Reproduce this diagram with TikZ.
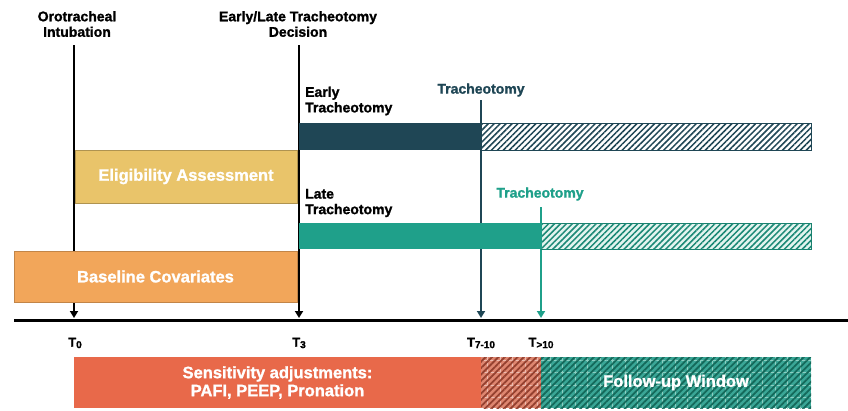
\documentclass[tikz,border=0pt]{standalone}
\usepackage{fontspec}
\setmainfont{Liberation Sans}[BoldFeatures={FakeBold=1.3}]
\usetikzlibrary{arrows.meta,patterns.meta}
\definecolor{navy}{HTML}{1F4655}
\definecolor{tealc}{HTML}{1FA08A}
\definecolor{yell}{HTML}{E9C46A}
\definecolor{oran}{HTML}{F2A65A}
\definecolor{redc}{HTML}{E8694A}
\definecolor{redh}{HTML}{DE8670}
\definecolor{redd}{HTML}{94402F}
\definecolor{follow}{HTML}{3AA696}
\definecolor{followd}{HTML}{14695A}
\definecolor{gridl}{HTML}{8CCFC2}
\definecolor{lteal}{HTML}{E3F4EF}
\newcommand{\Tsub}[1]{T\raisebox{-0.2ex}{\fontsize{10}{10}\selectfont #1}}
\begin{document}
\begin{tikzpicture}[x=1pt,y=-1pt,
  lbl/.style={font=\fontsize{14}{15.5}\selectfont\bfseries, align=center, inner sep=0pt},
  lbll/.style={font=\fontsize{14}{15.5}\selectfont\bfseries, align=left, inner sep=0pt, anchor=west},
  bar/.style={anchor=north west, inner sep=0pt, outer sep=0pt},
  boxtxt/.style={bar, text=white, font=\fontsize{16.5}{18}\selectfont\bfseries, align=center},
  tick/.style={font=\fontsize{13}{13}\selectfont\bfseries, inner sep=0pt},
  vline/.style={line width=2.6pt, -{Triangle[width=8pt,length=7pt]}},
  diag/.style={pattern={Lines[angle=45,distance=4.5pt,line width=1.8pt]}},
  gridp/.style={pattern={Hatch[angle=0,distance=12.5pt,line width=0.45pt]}},
]
\useasboundingbox (0,0) rectangle (848,410);

% axis
\coordinate (ax0) at (14,320);
\coordinate (ax1) at (848,320);

% event coordinates
\coordinate (t0top) at (74,45);  \coordinate (t0) at (74,318);
\coordinate (t3top) at (299,45); \coordinate (t3) at (299,318);
\coordinate (etop) at (481,100); \coordinate (te) at (481,318);
\coordinate (ltop) at (541,207); \coordinate (tl) at (541,318);

% vertical arrows
\draw[vline, black] (t0top) -- (t0);
\draw[vline, black] (t3top) -- (t3);
\draw[vline, navy] (etop) -- (te);
\draw[vline, tealc] (ltop) -- (tl);

% axis line
\draw[line width=3pt] (ax0) -- (ax1);

% top labels
\node[lbl] (oi) at (77,24) {Orotracheal\\Intubation};
\node[lbl] (dec) at (298,24) {Early/Late Tracheotomy\\Decision};
\node[lbll] (el) at (305,101) {Early\\Tracheotomy};
\node[lbll] (ll) at (305,203) {Late\\Tracheotomy};
\node[lbl, text=navy] (tre) at (481,90) {Tracheotomy};
\node[lbl, text=tealc] (trl) at (540,194) {Tracheotomy};

% boxes
\node[boxtxt, fill=yell, draw=yell!75!black, line width=0.5pt, minimum width=222pt, minimum height=53pt] (elig) at (75,150) {Eligibility Assessment};
\node[boxtxt, fill=oran, draw=oran!80!black, line width=0.5pt, minimum width=283pt, minimum height=51pt] (base) at (14,251) {Baseline Covariates};

\node[bar, fill=navy, minimum width=182pt, minimum height=27pt] (ebar) at (299,123) {};
\node[bar, draw=navy, line width=0.8pt, preaction={fill=white},
  postaction={pattern={Lines[angle=45,distance=4.2pt,line width=1.5pt]}, pattern color=navy},
  minimum width=330pt, minimum height=27pt] (ehatch) at (481,123) {};

\node[bar, fill=tealc, minimum width=242pt, minimum height=26pt] (lbar) at (299,223) {};
\node[bar, draw=tealc!80!black, line width=0.8pt, preaction={fill=lteal},
  postaction={pattern={Lines[angle=45,distance=4.2pt,line width=1.5pt]}, pattern color=tealc!85!black},
  minimum width=270pt, minimum height=26pt] (lhatch) at (541,223) {};

% re-draw event lines over bar junctions
\draw[line width=2.6pt, navy] (481,100) -- (481,150);
\draw[line width=2.6pt, tealc] (541,207) -- (541,249);

% tick labels
\node[tick] (l0) at (75,343) {\Tsub{0}};
\node[tick] (l3) at (299,343) {\Tsub{3}};
\node[tick] (l710) at (481,343) {\Tsub{7-10}};
\node[tick] (l10) at (541,343) {\Tsub{>10}};

% bottom boxes
\node[boxtxt, fill=redc, minimum width=407pt, minimum height=51pt] (sens) at (74,357) {Sensitivity adjustments:\\PAFI, PEEP, Pronation};
\node[bar, fill=redh, minimum width=60pt, minimum height=51pt] (rh) at (481,357) {};
\path[gridp, pattern color=white!45!redh] (rh.north west) rectangle (rh.south east);
\path[diag, pattern color=redd] (rh.north west) rectangle (rh.south east);

\node[bar, fill=follow, minimum width=270pt, minimum height=51pt] (fwbox) at (541,357) {};
\path[gridp, pattern color=gridl] (fwbox.north west) rectangle (fwbox.south east);
\path[diag, pattern color=followd] (fwbox.north west) rectangle (fwbox.south east);
\node[text=white, font=\fontsize{16.5}{18}\selectfont\bfseries] (fw) at (fwbox.center) {Follow-up Window};
\end{tikzpicture}
\end{document}
